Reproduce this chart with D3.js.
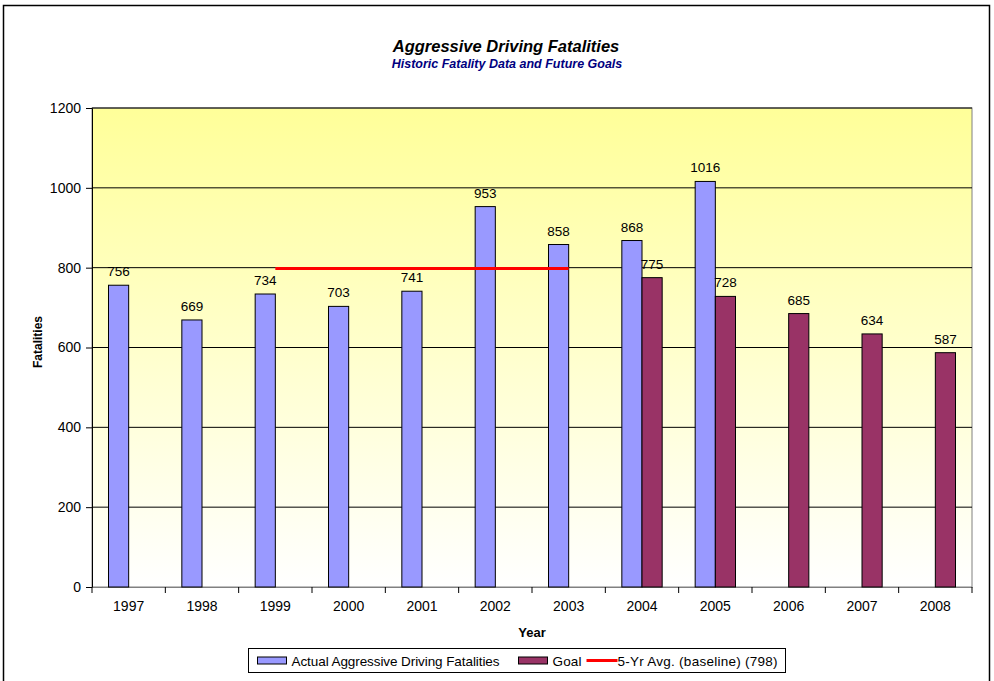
<!DOCTYPE html>
<html>
<head>
<meta charset="utf-8">
<script src="https://cdn.jsdelivr.net/npm/d3@7"></script>
<style>
    body { margin: 0; background: #fff; }
    text { font-family: Arial, "Liberation Sans", sans-serif; }
</style>
</head>
<body>
<div id="chart"></div>
<script>
const years = ['1997', '1998', '1999', '2000', '2001', '2002', '2003', '2004', '2005', '2006', '2007', '2008'];
const actual = [756, 669, 734, 703, 741, 953, 858, 868, 1016, null, null, null];
const goal = [null, null, null, null, null, null, null, 775, 728, 685, 634, 587];
const baselineYears = ['1999', '2000', '2001', '2002', '2003'];
const baselineValue = 798;
const yTicks = [0, 200, 400, 600, 800, 1000, 1200];

const W = 994, H = 681;
const margin = { top: 108, right: 22, bottom: 94, left: 92 };
const width = W - margin.left - margin.right;
const height = H - margin.top - margin.bottom;

const svg = d3.select('#chart').append('svg')
    .attr('width', W)
    .attr('height', H);

// outer frame
svg.append('rect')
    .attr('x', 3.5).attr('y', 5.5)
    .attr('width', 986).attr('height', 690)
    .attr('fill', 'none')
    .attr('stroke', '#000')
    .attr('stroke-width', 1.5);

const defs = svg.append('defs');
const grad = defs.append('linearGradient')
    .attr('id', 'bg')
    .attr('x1', 0).attr('y1', 0).attr('x2', 0).attr('y2', 1);
grad.append('stop').attr('offset', '0%').attr('stop-color', '#FFFF99');
grad.append('stop').attr('offset', '100%').attr('stop-color', '#FFFFFF');

const g = svg.append('g')
    .attr('transform', `translate(${margin.left},${margin.top})`);

const x = d3.scaleBand().domain(years).range([0, width]);
const y = d3.scaleLinear().domain([0, 1200]).range([height, 0]);
const barW = x.bandwidth() * 0.275;

// plot area
g.append('rect')
    .attr('width', width).attr('height', height)
    .attr('fill', 'url(#bg)')
    .attr('stroke', '#808080');

// gridlines
g.append('g')
    .selectAll('line')
    .data(yTicks.slice(1))
    .enter()
    .append('line')
    .attr('x1', 0).attr('x2', width)
    .attr('y1', d => y(d)).attr('y2', d => y(d))
    .attr('stroke', '#000')
    .attr('stroke-width', 1);

// Y axis
const yAxis = g.append('g')
    .call(d3.axisLeft(y).tickValues(yTicks).tickFormat(d3.format('d')).tickSize(6).tickPadding(5));
yAxis.select('.domain').attr('stroke', '#000');
yAxis.selectAll('text').style('font-size', '14px').attr('fill', '#000');

// X axis
const xAxis = g.append('g')
    .attr('transform', `translate(0,${height})`)
    .call(d3.axisBottom(x).tickSize(0).tickPadding(14));
xAxis.select('.domain').attr('stroke', '#808080');
xAxis.selectAll('text').style('font-size', '14px').attr('fill', '#000');
g.append('g')
    .selectAll('line')
    .data(d3.range(years.length + 1))
    .enter()
    .append('line')
    .attr('x1', d => d * x.step()).attr('x2', d => d * x.step())
    .attr('y1', height).attr('y2', height + 6)
    .attr('stroke', '#000');

const actualData = years.map((yr, i) => ({ year: yr, v: actual[i] })).filter(d => d.v != null);
const goalData = years.map((yr, i) => ({ year: yr, v: goal[i] })).filter(d => d.v != null);
const center = d => x(d) + x.bandwidth() / 2;

// bars
g.append('g').selectAll('rect')
    .data(actualData)
    .enter()
    .append('rect')
    .attr('x', d => center(d.year) - barW)
    .attr('y', d => y(d.v))
    .attr('width', barW)
    .attr('height', d => height - y(d.v))
    .attr('fill', '#9999FF')
    .attr('stroke', '#000')
    .attr('stroke-width', 1);

g.append('g').selectAll('rect')
    .data(goalData)
    .enter()
    .append('rect')
    .attr('x', d => center(d.year))
    .attr('y', d => y(d.v))
    .attr('width', barW)
    .attr('height', d => height - y(d.v))
    .attr('fill', '#993366')
    .attr('stroke', '#000')
    .attr('stroke-width', 1);

// baseline line
g.append('line')
    .attr('x1', center(baselineYears[0]))
    .attr('x2', center(baselineYears[baselineYears.length - 1]))
    .attr('y1', y(baselineValue)).attr('y2', y(baselineValue))
    .attr('stroke', '#FF0000')
    .attr('stroke-width', 3);

// data labels
g.append('g').selectAll('text')
    .data(actualData)
    .enter()
    .append('text')
    .attr('x', d => center(d.year) - barW / 2)
    .attr('y', d => y(d.v) - 9)
    .attr('text-anchor', 'middle')
    .style('font-size', '13.5px')
    .text(d => d.v);

g.append('g').selectAll('text')
    .data(goalData)
    .enter()
    .append('text')
    .attr('x', d => center(d.year) + barW / 2)
    .attr('y', d => y(d.v) - 9)
    .attr('text-anchor', 'middle')
    .style('font-size', '13.5px')
    .text(d => d.v);

// titles
svg.append('text')
    .attr('x', 506).attr('y', 52)
    .attr('text-anchor', 'middle')
    .style('font-size', '16.5px')
    .style('font-weight', 'bold')
    .style('font-style', 'italic')
    .text('Aggressive Driving Fatalities');
svg.append('text')
    .attr('x', 507).attr('y', 68)
    .attr('text-anchor', 'middle')
    .style('font-size', '12.5px')
    .style('font-weight', 'bold')
    .style('font-style', 'italic')
    .attr('fill', '#000080')
    .text('Historic Fatality Data and Future Goals');

svg.append('text')
    .attr('transform', `translate(42,342) rotate(-90)`)
    .attr('text-anchor', 'middle')
    .style('font-size', '12px')
    .style('font-weight', 'bold')
    .text('Fatalities');

svg.append('text')
    .attr('x', margin.left + width / 2).attr('y', 637)
    .attr('text-anchor', 'middle')
    .style('font-size', '13px')
    .style('font-weight', 'bold')
    .text('Year');

// legend
const legend = svg.append('g').attr('transform', 'translate(248.5,648.5)');
legend.append('rect')
    .attr('width', 537).attr('height', 24)
    .attr('fill', '#fff')
    .attr('stroke', '#000');
const items = [
    { label: 'Actual Aggressive Driving Fatalities', type: 'bar', color: '#9999FF', x: 9, w: 208 },
    { label: 'Goal', type: 'bar', color: '#993366', x: 270, w: 29 },
    { label: '5-Yr Avg. (baseline) (798)', type: 'line', color: '#FF0000', x: 338, w: 160 }
];
items.forEach(it => {
    const li = legend.append('g').attr('transform', `translate(${it.x},0)`);
    if (it.type === 'bar') {
        li.append('rect')
            .attr('x', 0).attr('y', 8.5)
            .attr('width', 29).attr('height', 7)
            .attr('fill', it.color)
            .attr('stroke', '#000');
    } else {
        li.append('line')
            .attr('x1', 0).attr('x2', 31)
            .attr('y1', 12).attr('y2', 12)
            .attr('stroke', it.color)
            .attr('stroke-width', 3);
    }
    li.append('text')
        .attr('x', it.type === 'bar' ? 34 : 31)
        .attr('y', 17)
        .attr('textLength', it.w)
        .attr('lengthAdjust', 'spacing')
        .style('font-size', '13.5px')
        .text(it.label);
});
</script>
</body>
</html>
